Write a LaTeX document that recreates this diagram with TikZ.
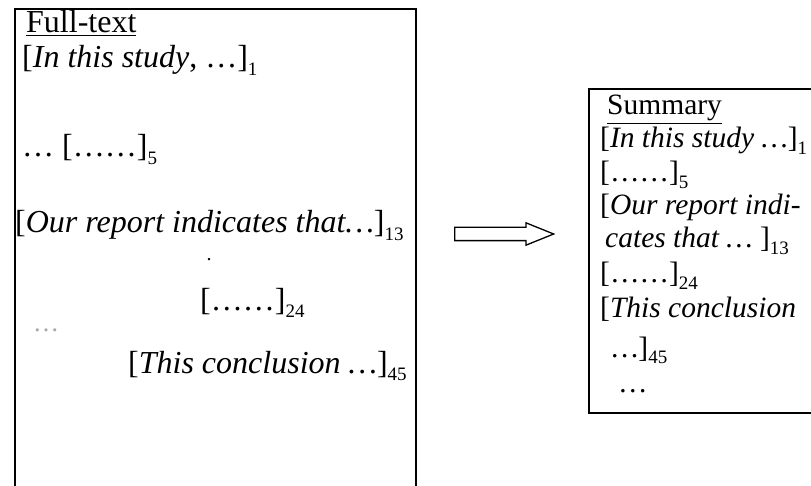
\documentclass[tikz,border=0pt]{standalone}
\usepackage{fontspec}
\setmainfont{Liberation Serif}
\usetikzlibrary{shapes.arrows}
\newcommand\sbs[1]{\raisebox{-0.22em}{\fontsize{19pt}{19pt}\selectfont\upshape #1}}
\begin{document}
\begin{tikzpicture}[x=1pt,y=-1pt,
 frame/.style={draw, line width=1.6pt, inner sep=0pt, anchor=north west},
 txt/.style={anchor=base west, inner sep=0pt, font=\fontsize{32pt}{36pt}\selectfont},
 stxt/.style={anchor=base west, inner sep=0pt, font=\fontsize{29.5pt}{34pt}\selectfont}]
\useasboundingbox (0,0) rectangle (811,486);
\clip (0,0) rectangle (811,486);
% boxes
\node[frame, minimum width=401pt, minimum height=500pt] (full) at (14,8) {};
\node[frame, minimum width=260pt, minimum height=324pt] (summ) at (588,88) {};
% arrow
\node[single arrow, draw, line width=1.3pt, inner xsep=0pt, inner ysep=6pt,
      minimum height=99pt, minimum width=0pt, single arrow head extend=4.5pt,
      single arrow tip angle=44, anchor=tail] (arr) at (454,234) {};
% full-text
\node[txt] (f0) at (26,33) {\underline{Full-text}};
\node[txt] (f1) at (22,68) {[\textit{In this study}, …]\sbs{1}};
\node[txt] (f2) at (22,157) {…\ [……]\sbs{5}};
\node[txt] (f3) at (15,233) {[\textit{Our report indicates that…}]\sbs{13}};
\node[anchor=base, inner sep=0pt, font=\fontsize{20pt}{20pt}\selectfont] (fdot) at (209,261) {.};
\node[txt] (f4) at (200,310) {[……]\sbs{24}};
\node[txt, text=gray!70, font=\fontsize{26pt}{30pt}\selectfont] (f5) at (33,331) {…};
\node[txt] (f6) at (128,373) {[\textit{This conclusion …}]\sbs{45}};
% summary
\node[stxt] (s0) at (607,115) {\underline{Summary}};
\node[stxt] (s1) at (600,148) {[\textit{In this study …}]\sbs{1}};
\node[stxt] (s2) at (600,182) {[……]\sbs{5}};
\node[stxt] (s3) at (600,215) {[\textit{Our report indi-}};
\node[stxt] (s4) at (605,248) {\textit{cates that … }]\sbs{13}};
\node[stxt] (s5) at (600,283) {[……]\sbs{24}};
\node[stxt] (s6) at (600,317) {[\textit{This conclusion}};
\node[stxt] (s7) at (612,357) {\textit{…}]\sbs{45}};
\node[stxt] (s8) at (618,392) {…};
\end{tikzpicture}
\end{document}
